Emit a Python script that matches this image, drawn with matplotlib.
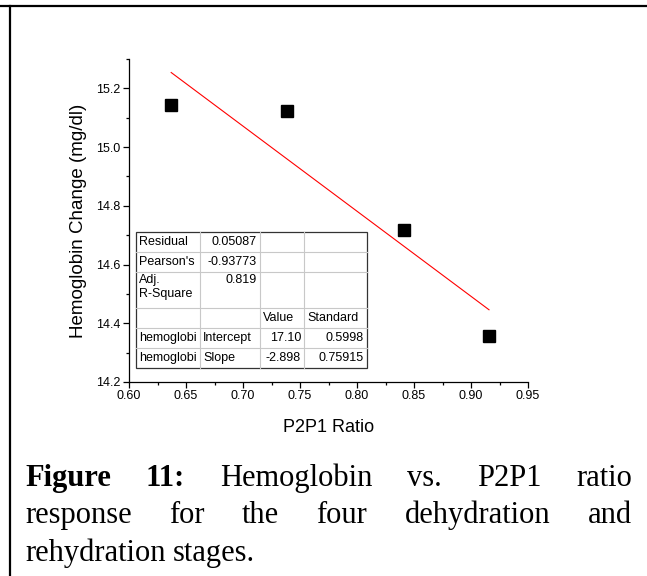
import numpy as np
import matplotlib
matplotlib.use("Agg")
import matplotlib.pyplot as plt
import matplotlib.transforms as mtransforms
from matplotlib.lines import Line2D
from matplotlib.ticker import MultipleLocator, FormatStrFormatter

# P2P1 ratio vs hemoglobin for the four stages
p2p1_ratio = [0.637, 0.739, 0.8415, 0.9158]
hemoglobin = [15.145, 15.123, 14.719, 14.356]

# linear fit reported in the table
fit_intercept = 17.10
fit_slope = -2.898

table_rows = [
    ["Residual", "0.05087", "", ""],
    ["Pearson's", "-0.93773", "", ""],
    ["Adj.\nR-Square", "0.819", "", ""],
    ["", "", "Value", "Standard"],
    ["hemoglobi", "Intercept", "17.10", "0.5998"],
    ["hemoglobi", "Slope", "-2.898", "0.75915"],
]

caption_lines = [
    [("Figure", "bold"), ("11:", "bold"), ("Hemoglobin", "normal"), ("vs.", "normal"),
     ("P2P1", "normal"), ("ratio", "normal")],
    [("response", "normal"), ("for", "normal"), ("the", "normal"), ("four", "normal"),
     ("dehydration", "normal"), ("and", "normal")],
    [("rehydration", "normal"), ("stages.", "normal")],
]

W, H = 647, 576
plt.rcParams["font.family"] = ["Liberation Sans", "DejaVu Sans"]
fig = plt.figure(figsize=(W / 100, H / 100), dpi=100)
# pixel coordinates measured from the top-left corner
px = mtransforms.Affine2D().scale(1 / W, -1 / H).translate(0, 1) + fig.transFigure

ax = fig.add_axes([129 / W, 1 - 382 / H, (528 - 129) / W, (382 - 59) / H])
ax.plot(p2p1_ratio, hemoglobin, "s", color="black", ms=8.4, zorder=3)
xf = np.array([min(p2p1_ratio), max(p2p1_ratio)])
ax.plot(xf, fit_intercept + fit_slope * xf, color="red", lw=0.8)

ax.set_xlim(0.60, 0.95)
ax.set_ylim(14.2, 15.3)
ax.xaxis.set_major_locator(MultipleLocator(0.05))
ax.xaxis.set_minor_locator(MultipleLocator(0.025))
ax.yaxis.set_major_locator(MultipleLocator(0.2))
ax.yaxis.set_minor_locator(MultipleLocator(0.1))
ax.xaxis.set_major_formatter(FormatStrFormatter("%.2f"))
ax.yaxis.set_major_formatter(FormatStrFormatter("%.1f"))
ax.spines["top"].set_visible(False)
ax.spines["right"].set_visible(False)
for s in ("left", "bottom"):
    ax.spines[s].set_linewidth(0.9)
ax.tick_params(which="major", direction="out", length=4, width=0.9, labelsize=9, pad=2)
ax.tick_params(which="minor", direction="out", length=2, width=0.9)

ax.set_xlabel("P2P1 Ratio", fontsize=13)
ax.set_ylabel("Hemoglobin Change (mg/dl)", fontsize=13.5)
ax.xaxis.set_label_coords(0.5, -0.115)
ax.yaxis.set_label_coords(-0.105, 0.5)

# fit statistics table
col_x = [135.7, 200, 260, 304, 366.7]
row_y = [231.7, 252.3, 272.3, 308.3, 328.3, 348.3, 368.3]
for x in col_x[1:-1]:
    fig.add_artist(Line2D([x, x], [row_y[0], row_y[-1]], transform=px, color="#c8c8c8", lw=0.8))
for y in row_y[1:-1]:
    fig.add_artist(Line2D([col_x[0], col_x[-1]], [y, y], transform=px, color="#c8c8c8", lw=0.8))
fig.add_artist(plt.Rectangle((col_x[0], row_y[0]), col_x[-1] - col_x[0], row_y[-1] - row_y[0],
                             transform=px, fill=True, facecolor="none", edgecolor="#333333", lw=0.9))
numeric_cols = {(0, 1), (1, 1), (2, 1), (4, 2), (4, 3), (5, 2), (5, 3)}
for r, row in enumerate(table_rows):
    for c, txt in enumerate(row):
        if not txt:
            continue
        if (r, c) in numeric_cols:
            x, ha = col_x[c + 1] - 3, "right"
        else:
            x, ha = col_x[c] + 3, "left"
        if r == 2:
            y, va = row_y[r] + 2, "top"
        else:
            y, va = (row_y[r] + row_y[r + 1]) / 2, "center"
        fig.text(x, y, txt, transform=px, ha=ha, va=va, fontsize=9, linespacing=1.15)

# page border
fig.add_artist(Line2D([0, W], [5.5, 5.5], transform=px, color="black", lw=1.6))
fig.add_artist(Line2D([9.5, 9.5], [5.5, H], transform=px, color="black", lw=1.6))

# justified caption
renderer = fig.canvas.get_renderer()
cap_left, cap_right = 25, 632
baselines = [486, 523, 561]
for i, words in enumerate(caption_lines):
    texts = [fig.text(0, baselines[i], w, transform=px, fontsize=22, fontweight=wt,
                      family="Liberation Serif", va="baseline") for w, wt in words]
    widths = [t.get_window_extent(renderer).width for t in texts]
    if i < len(caption_lines) - 1:
        gap = (cap_right - cap_left - sum(widths)) / (len(texts) - 1)
    else:
        gap = renderer.points_to_pixels(22) * 0.25
    x = cap_left
    for t, w in zip(texts, widths):
        t.set_x(x)
        x += w + gap

fig.savefig("out.png", dpi=100)
